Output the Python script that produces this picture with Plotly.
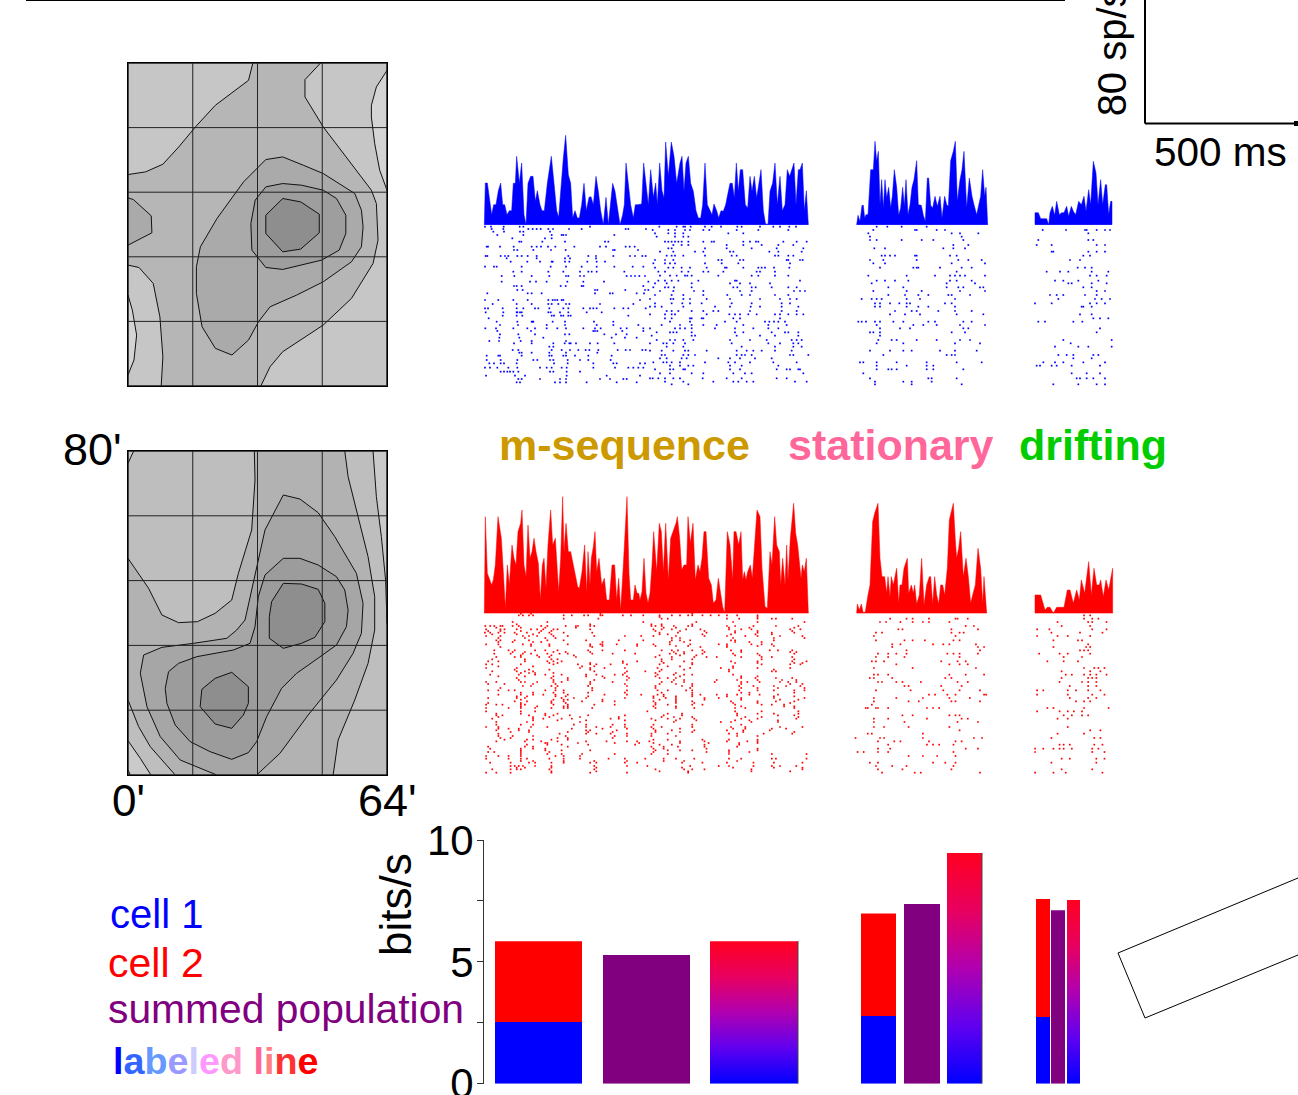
import plotly.graph_objects as go

W, H = 1298, 1095
FONT = "Liberation Sans"

RF1_LEVELS = ["#C6C6C6", "#D4D4D4", "#D4D4D4", "#B6B6B6", "#AAAAAA", "#AAAAAA", "#9E9E9E", "#8E8E8E"]
RF1_BASE = [(52, 38), (832, 38), (832, 1008), (52, 1008)]
RF1_LIGHT_A = [(832, 60), (800, 110), (785, 165), (785, 200), (795, 280), (810, 360), (832, 420)]
RF1_LIGHT_B = [(52, 735), (65, 780), (78, 855), (70, 930), (52, 975)]
RF1_MID = [(428, 38), (415, 90), (315, 165), (255, 230), (205, 290), (157, 342), (105, 365), (52, 373),
           (52, 645), (85, 652), (128, 700), (148, 800), (157, 920), (152, 1008), (452, 1008), (480, 950),
           (518, 905), (640, 825), (725, 745), (790, 640), (805, 570), (800, 460), (785, 420), (700, 310),
           (640, 230), (585, 140), (585, 88), (632, 38)]
RF1_SIDE = [(52, 443), (68, 448), (122, 497), (124, 548), (52, 585)]
RF1_INNER = [(467, 328), (518, 320), (580, 345), (640, 370), (735, 430), (755, 480), (760, 530), (755, 590),
             (725, 635), (640, 695), (560, 735), (480, 770), (445, 815), (415, 870), (365, 915), (315, 895),
             (275, 830), (258, 730), (258, 650), (270, 590), (320, 505), (400, 395)]
RF1_CORE = [(467, 410), (518, 400), (575, 405), (640, 420), (680, 445), (708, 495), (708, 550), (688, 600),
            (635, 630), (575, 645), (518, 658), (467, 652), (425, 600), (422, 520), (435, 450)]
RF1_PEAK = [(518, 445), (572, 455), (628, 492), (628, 548), (572, 597), (518, 605), (467, 550), (467, 495)]

RF2_LEVELS = ["#BEBEBE", "#CACACA", "#CACACA", "#D2D2D2", "#CACACA", "#B2B2B2", "#A6A6A6", "#9C9C9C", "#8E8E8E", "#8E8E8E"]
RF2_BASE = [(203, 63), (982, 63), (982, 1035), (203, 1035)]
RF2_STRIPE = [(940, 63), (950, 200), (965, 320), (978, 452), (982, 580), (982, 63)]
RF2_CORNER_LOW = [(203, 932), (240, 985), (272, 1035), (203, 1035)]
RF2_CORNER_TIP = [(203, 1020), (210, 1035), (203, 1035)]
RF2_CORNER_TOP = [(203, 100), (220, 63), (203, 63)]
RF2_MID = [(855, 63), (865, 140), (890, 240), (925, 380), (945, 500), (945, 600), (925, 700), (885, 810),
           (835, 930), (820, 1035), (345, 1035), (270, 950), (235, 890), (203, 810), (203, 385), (265, 475),
           (305, 555), (355, 578), (412, 575), (465, 550), (515, 510), (535, 430), (575, 300), (585, 150),
           (583, 63)]
RF2_INNER = [(670, 195), (720, 207), (775, 248), (825, 320), (890, 430), (910, 520), (905, 610), (880, 670),
             (830, 750), (745, 855), (660, 970), (590, 1035), (470, 1035), (360, 990), (300, 920), (260, 830),
             (240, 730), (250, 675), (305, 652), (400, 640), (500, 625), (530, 600), (555, 570), (585, 430),
             (615, 300)]
RF2_CORE = [(670, 385), (720, 385), (775, 405), (830, 440), (855, 480), (865, 540), (860, 590), (830, 645),
            (760, 695), (710, 730), (665, 775), (620, 860), (590, 935), (565, 968), (515, 988), (450, 965),
            (390, 935), (345, 885), (320, 820), (315, 775), (325, 725), (355, 700), (410, 680), (520, 660),
            (570, 640), (585, 590), (595, 500), (615, 435)]
RF2_PEAK_A = [(670, 460), (725, 462), (775, 478), (795, 520), (795, 575), (765, 622), (725, 640), (670, 655),
              (628, 625), (628, 560), (635, 515)]
RF2_PEAK_B = [(515, 727), (565, 770), (565, 820), (550, 855), (515, 895), (465, 882), (420, 830), (425, 778),
              (465, 745)]
GRID_ARCMIN_X = [0, 16, 32, 48, 64]
GRID_ARCMIN_Y = [0, 16, 32, 48, 64, 80]

# ---------- PSTHs: (time, rate) ----------
PSTH_BLUE_M = [(13,0),(16,125),(22,125),(28,84),(35,30),(41,60),(48,60),(55,102),(62,125),(68,60),(74,60),(81,30),(88,42),(95,42),(100,124),(106,124),(110,205),(118,125),(125,185),(132,30),(138,0),(144,124),(152,145),(159,145),(166,70),(172,102),(180,60),(186,42),(193,42),(202,124),(214,205),(222,124),(230,42),(236,22),(243,124),(250,200),(257,268),(265,150),(272,124),(278,20),(285,42),(292,20),(298,20),(305,60),(312,124),(319,42),(327,82),(333,84),(340,60),(348,145),(355,100),(362,42),(370,0),(378,82),(385,0),(392,60),(398,124),(405,100),(413,40),(420,0),(428,30),(433,60),(438,185),(445,124),(452,60),(460,20),(466,60),(473,60),(480,60),(485,62),(491,185),(498,124),(505,60),(512,165),(520,82),(527,125),(532,60),(539,185),(546,102),(552,80),(557,248),(565,145),(574,248),(582,205),(590,124),(600,185),(606,205),(612,100),(618,185),(625,205),(632,124),(640,100),(648,42),(655,20),(662,20),(668,60),(675,185),(682,60),(690,42),(696,30),(702,62),(710,42),(716,20),(723,42),(730,40),(737,60),(742,85),(750,124),(757,124),(763,80),(769,185),(775,100),(781,165),(788,165),(796,60),(803,50),(810,145),(816,100),(823,145),(830,80),(843,165),(850,42),(857,0),(864,0),(870,100),(878,125),(885,185),(892,60),(900,145),(907,42),(915,60),(922,165),(929,145),(935,165),(942,185),(948,60),(955,165),(960,165),(967,185),(973,42),(979,102),(985,0)]
PSTH_BLUE_S = [(1130,0),(1134,28),(1140,10),(1146,58),(1150,58),(1154,20),(1158,30),(1164,30),(1172,165),(1180,165),(1185,250),(1190,190),(1195,220),(1200,60),(1205,135),(1210,50),(1215,135),(1220,80),(1226,112),(1232,50),(1237,85),(1243,165),(1250,112),(1256,28),(1262,50),(1268,112),(1273,55),(1278,135),(1284,30),(1290,60),(1296,112),(1302,135),(1310,192),(1315,60),(1324,58),(1330,28),(1336,10),(1342,140),(1346,140),(1352,58),(1358,50),(1365,85),(1372,55),(1380,85),(1386,20),(1394,85),(1400,60),(1405,55),(1412,192),(1420,220),(1426,250),(1432,70),(1440,135),(1446,165),(1452,220),(1460,50),(1468,140),(1476,85),(1482,60),(1490,30),(1496,58),(1502,85),(1508,165),(1514,85),(1518,112),(1523,0)]
PSTH_BLUE_D = [(1665,36),(1675,36),(1682,18),(1690,18),(1700,18),(1706,0),(1710,36),(1717,55),(1724,28),(1730,70),(1738,30),(1745,36),(1752,36),(1760,55),(1766,25),(1774,55),(1780,40),(1787,30),(1796,70),(1804,60),(1812,85),(1818,40),(1826,105),(1832,60),(1840,190),(1848,155),(1854,60),(1862,135),(1868,60),(1876,120),(1880,120),(1886,30),(1892,70),(1896,70)]
PSTH_RED_M = [(13,0),(16,290),(22,120),(28,105),(35,85),(40,100),(46,145),(54,290),(58,260),(64,225),(70,125),(76,15),(82,145),(88,85),(96,205),(102,165),(108,145),(114,245),(122,270),(126,310),(132,145),(138,110),(144,265),(150,165),(156,185),(162,225),(168,185),(175,150),(181,40),(187,145),(192,165),(198,75),(204,205),(212,310),(218,205),(226,225),(236,65),(242,165),(248,350),(252,185),(258,270),(265,185),(272,185),(280,145),(286,105),(293,80),(298,75),(306,125),(314,205),(320,60),(324,185),(330,85),(334,165),(340,200),(345,245),(350,125),(357,165),(365,85),(373,105),(380,40),(388,40),(396,145),(404,145),(410,40),(416,105),(422,10),(430,145),(441,350),(447,120),(452,40),(460,40),(465,85),(471,60),(476,60),(480,40),(486,65),(492,165),(498,60),(504,30),(510,60),(516,145),(521,245),(530,125),(538,270),(544,245),(550,125),(557,270),(565,100),(572,225),(580,245),(588,270),(592,290),(599,225),(605,130),(612,145),(620,145),(624,290),(631,210),(639,270),(646,100),(654,145),(660,125),(666,165),(672,245),(678,245),(686,105),(694,85),(700,30),(708,40),(715,105),(722,60),(728,20),(734,0),(742,245),(750,205),(758,100),(762,245),(768,245),(772,225),(776,205),(783,245),(788,100),(793,125),(798,100),(803,125),(811,145),(817,105),(825,225),(831,310),(840,290),(846,135),(855,20),(862,15),(870,185),(876,145),(884,290),(890,205),(898,185),(902,85),(908,165),(915,85),(920,205),(924,100),(931,225),(941,330),(947,240),(953,205),(957,165),(963,105),(967,145),(973,125),(979,165),(985,0)]
PSTH_RED_S = [(1130,0),(1132,28),(1138,10),(1144,28),(1150,0),(1156,5),(1164,55),(1170,85),(1178,275),(1184,300),(1194,330),(1200,165),(1206,110),(1214,110),(1220,60),(1224,110),(1230,50),(1234,110),(1240,85),(1244,110),(1250,135),(1256,30),(1260,85),(1266,85),(1272,135),(1282,165),(1286,60),(1294,85),(1300,60),(1304,85),(1310,28),(1318,55),(1325,165),(1332,25),(1340,85),(1348,110),(1352,110),(1358,28),(1364,110),(1370,55),(1376,28),(1382,85),(1388,85),(1394,55),(1402,135),(1408,280),(1420,330),(1426,220),(1430,165),(1436,195),(1442,245),(1450,110),(1458,165),(1465,110),(1472,30),(1478,55),(1486,85),(1494,195),(1502,135),(1508,28),(1512,110),(1518,28),(1520,0)]
PSTH_RED_D = [(1665,55),(1682,55),(1695,10),(1702,18),(1710,18),(1720,0),(1730,18),(1752,18),(1762,70),(1770,70),(1780,30),(1790,70),(1798,40),(1804,100),(1814,60),(1826,155),(1834,55),(1842,135),(1850,85),(1858,85),(1862,100),(1870,50),(1878,100),(1886,70),(1898,135)]

# ---------- spike rasters: {trial position: [spike times]} ----------
RASTER_BLUE_LEFT = {
5:[15,33,71,119,130,330],12:[35,70,145,158,170,182,205,219,267,305,437,445,498],20:[40,72,120,130,210],30:[52,130,215,245,250,258,403],
40:[97,195,215],50:[118,124,187,255,375,385],65:[20,24,60,101,155,170,183,204,226,283,360,378,437,449,464],75:[102,112,160,213,257,399,404,474],
93:[17,22,62,75,85,112,125,143,170,265,325,348,400,450,465,487,497],100:[80,170,255,270,348],110:[92,142,180,215,218,255,268,322,350,375],
125:[15,42,50,125,212,258,305,350,403,458,490],140:[100,125,205,250,300,325,335,350,433],153:[65,103,155,208,258,265,300,312,440,453,465,478,495],
170:[65,150,168,200,262,310,372,505],183:[102,110,125,242,257,305,310,490],195:[112,128,345,352,436,495,505],205:[22,143,155,185,345,390,398,470,492],
225:[15,55,100,143,205,218,225,232,245,250,480],237:[38,110,155,205,215,235,258,268,360,460],250:[15,24,68,110,130,165,175,208,250,265,310,330,340,350,403,430,445,497],
262:[17,70,110,112,120,125,205,212,240,265,320,365],272:[68,110,127,215,222,243,250,265,272,445],280:[26],290:[50,112,155,158,160,218,255,342,400],
300:[60,114,200,255,350,400,475],310:[16,48,100,142,165,200,232,258,310,345,362,422,440,490,510],318:[52,153,340,345,352,427,490],328:[60,115,165,255,268,373,408,440],
338:[58,118,190,395,435,470],348:[28,57,122,155,258],355:[102,155,220,254,268,272,288,330,353,403],365:[208,220],375:[98,115,215,245,270,295,317,328,355,413,437,450,487,497],
383:[118,125,155,208,258,352],392:[20,55,60,125,208,215,250,258,285,325,395],405:[20,62,112,160,172,210,220,263,300,325,392],415:[28,42,62,72,110,222,263,340,400,410,480,495],
428:[15,30,52,85,112,180,200,215,245,260,340,405,445,460,475,490],440:[62,72,82,90,100,115,210,220,260,300],452:[18,105,135,260,380,480],462:[115,125,180,240,258,360,390,430,440],
472:[110,120,225,240,258,320,410,470]}
RASTER_BLUE_RIGHT = {
5:[28,80,100,105,122,165,185,213,262,275,330,370,390,418,438,680,712,755,830],15:[8,55,75,105,120,160,178,260,325,415,670,795,800,860,885,1178,1248,1305,1310,1340,1365,1380],
25:[15,55,75,100,235,280,655,905,930,985,1315],35:[20,75,100,115,660,935],45:[660,680,755,815,850,940,1165,1315,1330],50:[45,55,65,75,85,95,115,160,185,192,280,300,318,325,400,440,470],
60:[70,95,115,230,280,335,385,430,910,955,1160,1205,1340,1365],70:[55,65,165,230,305,380,460,673,705,880,910,945],80:[30,70,135,160,240,250,358,385,455,1205,1210,1315,1340,1365],
92:[50,65,75,100,165,245,260,375,385,415,430,695,705,720,735,795,800,900,920,1300,1320],105:[15,45,70,205,215,270,280,410,415,450,458,660,700,800,925,955,995,1260,1290],115:[10,45,60,75,165,215,265,420,670,705,905,1005],
128:[15,55,70,95,120,170,225,230,280,325,335,345,372,418,690,790,800,805,870,935,965,1283,1305,1325],140:[25,45,95,115,160,175,220,320,330,375,920,1190,1230,1255,1325,1375],152:[30,60,80,105,112,125,205,305,325,375,415,655,770,855,900,915,930,945,1005,1320,1340,1370],
167:[25,45,65,85,145,255,260,450,680,705,735,775,900,920,965,1215,1240,1285,1345],175:[15,50,125,240,270,300,360,665,890,975,1255,1265,1325,1370],187:[10,45,55,72,125,250,262,305,317,365,415,440,715,760,890,925,940,990,1000,1300,1325],
198:[30,70,132,160,270,305,432,450,465,670,770,815,930,1005,1340,1365],210:[15,65,100,160,232,275,300,375,415,715,765,805,835,895,905,960,1200,1220,1240,1305,1340],222:[0,62,70,100,120,170,240,330,390,420,440,635,665,680,695,770,810,915,1225,1335,1355,1380],
235:[15,65,97,120,155,245,305,395,420,675,690,720,748,770,780,885,905,1155,1205,1320,1340,1365],245:[0,15,35,100,195,240,302,330,395,445,675,690,770,805,835,915,1295,1300,1325],258:[50,65,85,125,160,190,205,300,395,440,735,785,800,865,915,965],
268:[0,45,65,75,170,238,255,270,295,320,375,390,415,440,460,720,765,810,920,1000,1290,1325],280:[45,65,120,125,155,160,250,270,390,1330,1350,1375],290:[60,120,225,260,345,358,372,385,405,625,635,648,675,690,730,760,835,855,940,965,1165,1185,1270,1297],
300:[35,90,125,160,200,280,355,410,680,790,820,860,930,1005],310:[75,90,105,125,195,255,310,355,385,690,750,780,940,955,1350],322:[20,60,70,80,125,255,280,365,405,415,445,660,670,690,905,945,1340],332:[5,125,135,260,330,375,445,690],
345:[20,60,75,100,130,240,300,350,425,440,455,685,725,740,800,860,930,960,1240,1385],355:[0,40,50,70,105,245,355,390,430,445,680,760,915,990,1262],365:[50,100,275,375,430,455,1215,1285,1315,1385],377:[0,35,70,105,115,170,260,290,310,335,375,425,660,720,760,785,870,915,980],
390:[35,45,100,115,135,260,275,285,305,420,430,475,700,890,905,915,1225,1250,1270,1330,1345],400:[30,50,95,110,205,240,270,315,365,1270,1325],412:[10,40,50,65,90,165,235,255,300,370,440,630,640,680,740,830,920,995,1180,1215,1240,1300,1365],
422:[60,90,115,130,240,275,385,680,770,830,850,1160,1170,1205,1220,1265,1350],433:[15,60,70,100,105,240,270,380,410,420,445,450,680,715,725,740,830,850,940],445:[30,60,125,160,250,285,305,460,640,1265,1310,1350],
460:[0,8,25,45,70,90,158,230,275,380,410,660,835,845,920,1280,1290,1310,1330,1365],470:[45,100,190,250,265,290,310,435,470,675,760,785,845],478:[65,115,675,785,935,1210,1285,1340,1365]}
RASTER_RED = {
10:[95,105,120,130,205,225,255,265,295,300,350,370,400,440,470,490,510,520,545,565,585,605,630,680,1480,1495],
20:[205,290,445,460,605,635,680,715,725,765,1005,1045,1060,1100,1165,1170,1195,1480,1500,1515],30:[80,165,400,530,620,680,795,980,995,1030,1060,1085,1100,1150,1415,1490,1500,1535],
42:[13,25,35,50,55,80,95,150,165,210,235,240,270,280,420,430,445,475,510,520,605,625,670,725,780,1190,1210,1425,1495],52:[15,50,60,90,125,140,155,180,190,270,425,445,470,505,540,610,640,665,760,785,1025,1035,1155,1220,1365,1395,1500,1535],
62:[12,25,45,60,85,115,145,170,205,275,440,485,555,625,680,715,770,970,985,1155,1175,1185,1400,1470,1525],72:[15,50,105,120,140,180,215,280,355,395,425,480,550,605,650,680,735,790,965,1165,1365,1415,1440,1495],
85:[40,50,85,120,165,205,260,340,400,470,490,515,615,625,720,970,1040,1060,1090,1160,1175,1405,1465,1475],97:[15,45,105,125,170,215,270,295,300,335,385,425,465,515,585,605,665,690,715,1010,1030,1110,1135,1150,1215,1490],
105:[50,275,540,605,1010,1220,1235,1405,1485,1495],115:[35,70,85,135,160,190,265,300,355,445,470,485,520,545,615,640,710,730,765,1045,1225,1470,1480,1490],125:[35,75,105,125,165,195,215,275,325,380,465,480,500,545,620,680,770,975,1000,1020,1045,1145,1160,1175,1220,1370,1420,1440,1495],
135:[40,85,100,145,170,235,430,470,525,555,580,640,690,715,765,970,1000,1040,1175,1430,1475],148:[20,45,110,165,180,200,350,385,445,500,615,680,765,800,960,970,990,1130,1170,1190,1390,1430,1465],157:[15,30,100,180,240,270,285,320,360,440,520,690,760,785,1020,1150,1175,1195],
168:[15,90,245,270,305,355,435,515,590,620,680,760,965,1060,1215,1480,1505,1515,1530],178:[30,90,110,130,280,360,405,440,610,715,725,1425,1495,1520],188:[25,95,135,160,200,260,285,330,350,435,475,500,520,620,965,975,1000,1150,1190,1235,1435,1450,1480,1495,1510,1535],
198:[90,175,215,305,365,440,460,480,640,675,725,765,955,965,1010,1140,1155,1425,1490,1500,1510],210:[15,40,100,110,140,180,200,270,325,445,470,500,575,640,655,685,735,755,775,975,985,1020,1035,1080,1170,1195,1420,1475,1490,1510],
222:[105,125,175,190,265,360,430,495,520,635,670,720,750,785,1040,1050,1130,1180,1445,1490,1510],235:[20,45,70,85,160,185,205,275,360,435,460,505,520,635,680,720,770,795,970,1055,1135,1175,1225,1365,1380,1440,1460,1490,1520],
248:[45,100,130,155,185,215,305,360,395,435,450,520,540,580,605,630,660,685,730,1100,1115,1145,1165,1235,1240,1365,1440,1500,1530],258:[20,90,110,200,230,260,355,425,455,480,550,585,640,720,795,965,1020,1085,1150,1200,1445,1490,1510],
268:[85,115,175,205,250,300,330,425,480,520,615,680,725,770,965,1050,1075,1155,1165,1225,1460,1480,1495],278:[15,40,55,100,110,180,215,280,330,430,460,520,545,625,690,715,745,960],288:[15,70,100,135,175,205,215,275,430,480,525,625,650,770,945,950,970,975,1000,1095,1110,1125,1390,1405,1480,1540],
298:[15,100,135,410,625,690,780,1365,1420,1440,1455,1475],310:[40,55,120,160,180,220,265,355,450,495,630,730,770,1035,1060,1150,1165,1175,1430,1450,1475,1490],320:[30,130,155,200,225,320,340,420,460,490,525,640,680,775,965,1000,1095,1180,1195,1415,1440],
330:[40,115,245,475,590,615,665,730,965,1040,1170,1220],345:[15,45,125,165,260,285,320,355,420,445,520,615,650,735,790,965,990,1050,1150,1440],355:[40,95,120,260,270,335,430,470,525,605,645,710,1175,1495,1520],365:[45,195,260,285,320,360,420,460,610,630,695,765,950,960,1085,1415,1480],
378:[50,75,190,215,325,920,980,990,1085,1210,1230,1400,1505,1520],388:[40,110,150,190,260,310,360,385,415,490,550,605,655,680,975,1015,1030,1100,1165,1180],398:[115,165,200,265,380,440,470,550,635,1000,1095,1110,1125,1160,1420,1430,1445,1505,1525],
410:[25,100,130,160,425,450,555,680,975,1005,1190,1220,1360,1380,1420,1430,1450,1500,1515,1405],420:[20,35,100,170,425,555,610,660,925,940,975,1000,1160,1360,1500,1530],432:[15,45,70,100,185,205,245,1050,1085,1120,1165],
440:[15,70,100,115,170,205,245,315,355,405,450,480,525,610,640,715,725,800,1425,1445,1510,1530],452:[25,75,120,135,175,205,270,285,355,385,495,545,605,670,720,790,955,975,1110,1140,1165,1400,1510],462:[75,85,95,105,135,175,280,360,410,515,585,610,670,715,735,775,970,1010,1045,1160],
472:[30,75,90,100,170,280,430,500,520,550,665,790,975,1035,1155,1425,1500],482:[15,40,75,175,270,360,510,985,1065,1080,1225,1360,1405,1435,1525]}
RASTER_RED_MSEQ_MORE = {
5:[100,125,295,520],15:[440,680],37:[90,270,420,445,520],47:[40,100,160,235,450,480,610,660,770],57:[20,50,100,150,175,430,490,550,625,680,765],
67:[30,90,130,175,440,460,545,615,675,715],78:[45,110,160,185,470,490,620,720,795],90:[45,80,130,150,300,465,500,625,660,690],
102:[125,170,270,300,385,430,480,510,605,680,720],120:[80,110,180,210,270,475,500,550,640,760,775],130:[100,140,175,230,440,490,530,625,685],
142:[30,110,175,190,445,470,520,690,770],153:[170,190,270,350,450,520,625,680,770,790],163:[45,130,250,280,460,490,620],173:[85,120,170,270,445,500,610,720],
183:[100,120,135,180,355,430,480],193:[45,110,180,260,300,360,430,490,640,680],204:[95,180,215,280,360,475,500,580,630,680,740,775],
216:[20,60,130,185,270,355,440,480,520,640,760,790],228:[50,185,275,430,515,640,680,730,795],242:[100,130,180,205,265,355,445,520,640,660,770],
253:[90,115,185,210,265,425,450,480,520,605,720,770],263:[100,180,205,215,300,440,480,550,640,735,780],273:[20,100,175,210,430,480,525,620,680,760],
283:[100,140,205,215,425,480,640,745,770],305:[40,100,160,190,460,495,630,680,720,780],315:[45,130,170,245,340,445,475,520,650,690,780],
325:[130,190,260,355,430,480,530,625,660,730],338:[40,100,130,230,260,325,355,425,520,640],350:[45,70,95,225,300,360,425,490,620,650,715,750],
360:[75,120,215,265,325,430,490,520,645,770],372:[45,80,130,210,330,360,420,480,630,680],383:[60,115,130,175,215,425,460,545,610,680],
393:[160,165,240,330,390,425,490,560,635,680],404:[20,110,130,215,420,450,485,550,630],415:[100,160,200,270,430,460,490,520,610,680],
426:[100,165,200,250,330,420,460,610,715,800],447:[100,130,205,280,360,450,500,630],467:[90,110,175,285,495,620,720,790],478:[175,285,440,510,665,760]}

# ---------- information bars (bits/s) ----------
CELL1_BITS = [2.53, 2.78, 2.74]
CELL1_PLUS_CELL2_BITS = [5.85, 6.98, 7.58]
SUMMED_BITS = [5.28, 7.37, 7.12]
LABELED_BITS = [5.85, 9.47, 7.54]
BAR_TICK_VALUES = [0, 2.5, 5, 7.5, 10]
BAR_TICK_LABELS = ["0", "", "5", "", "10"]

LABELED_LINE_LETTERS = ["l", "a", "b", "e", "l", "e", "d", " ", "l", "i", "n", "e"]
LABELED_LINE_COLORS = ["#0000FF", "#3366FF", "#6699FF", "#9999FF", "#CCCCFF", "#FF99FF", "#FF99CC", "#FFFFFF",
                       "#FF6699", "#FF8080", "#FF3333", "#FF0000"]

# ---------- layout constants (pixels) ----------
BAR_SLOTS = [(495, 582, 603, 690, 710, 798), (861, 896, 904, 940, 947, 982), (1036, 1050, 1051, 1065, 1067, 1080)]


def dx(a, b):
    return [a / W, b / W]


def dy(top, bottom):
    return [1 - bottom / H, 1 - top / H]


def hidden(**kw):
    return dict(visible=False, fixedrange=True, **kw)


fig = go.Figure()


def arc1(poly):
    return [(x - 52) / 780 * 64 for x, _ in poly], [(1008 - y) / 970 * 80 for _, y in poly]


def arc2(poly):
    return [(x - 203) / 779 * 64 for x, _ in poly], [(1035 - y) / 972 * 80 for _, y in poly]


def add_rf(polys, colors, conv, ax):
    for poly, c in zip(polys, colors):
        xs, ys = conv(poly)
        fig.add_trace(go.Scatter(x=xs + xs[:1], y=ys + ys[:1], mode="lines", fill="toself", fillcolor=c,
                                 line=dict(color="#111111", width=1), xaxis=f"x{ax}", yaxis=f"y{ax}",
                                 hoverinfo="skip", showlegend=False))
    for v in GRID_ARCMIN_X:
        fig.add_trace(go.Scatter(x=[v, v], y=[0, 80], mode="lines", line=dict(color="#222222", width=1),
                                 xaxis=f"x{ax}", yaxis=f"y{ax}", hoverinfo="skip", showlegend=False))
    for v in GRID_ARCMIN_Y:
        fig.add_trace(go.Scatter(x=[0, 64], y=[v, v], mode="lines", line=dict(color="#222222", width=1),
                                 xaxis=f"x{ax}", yaxis=f"y{ax}", hoverinfo="skip", showlegend=False))


add_rf([RF1_BASE, RF1_LIGHT_A, RF1_LIGHT_B, RF1_MID, RF1_SIDE, RF1_INNER, RF1_CORE, RF1_PEAK], RF1_LEVELS, arc1, 1)
add_rf([RF2_BASE, RF2_STRIPE, RF2_CORNER_LOW, RF2_CORNER_TIP, RF2_CORNER_TOP, RF2_MID, RF2_INNER, RF2_CORE,
        RF2_PEAK_A, RF2_PEAK_B], RF2_LEVELS, arc2, 2)


def add_psth(data, color, ax):
    xs = [p[0] for p in data]
    ys = [p[1] for p in data]
    fig.add_trace(go.Scatter(x=[xs[0]] + xs + [xs[-1]], y=[0] + ys + [0], mode="lines", fill="tozeroy", fillcolor=color,
                             line=dict(color=color, width=0.5), xaxis=f"x{ax}", yaxis=f"y{ax}",
                             hoverinfo="skip", showlegend=False))
    fig.add_trace(go.Scatter(x=[xs[0], xs[-1]], y=[0, 0], mode="lines", line=dict(color=color, width=2),
                             xaxis=f"x{ax}", yaxis=f"y{ax}", hoverinfo="skip", showlegend=False))


for d in (PSTH_BLUE_M, PSTH_BLUE_S, PSTH_BLUE_D):
    add_psth(d, "#0000FF", 3)
for d in (PSTH_RED_M, PSTH_RED_S, PSTH_RED_D):
    add_psth(d, "#FF0000", 5)


def add_raster(rows, color, ax, offset=0):
    xs, ys = [], []
    for trial, times in rows.items():
        for t in times:
            xs.append(t + offset)
            ys.append(trial)
    fig.add_trace(go.Scatter(x=xs, y=ys, mode="markers", xaxis=f"x{ax}", yaxis=f"y{ax}",
                             marker=dict(symbol="square", size=1.7, color=color, line=dict(width=0)),
                             hoverinfo="skip", showlegend=False))


add_raster(RASTER_BLUE_LEFT, "#0000FF", 4)
add_raster(RASTER_BLUE_RIGHT, "#0000FF", 4, offset=510)
add_raster(RASTER_RED, "#FF0000", 6)
add_raster(RASTER_RED_MSEQ_MORE, "#FF0000", 6)

# bars
BX0 = 484
GRADIENT = [[0, "#0000FF"], [0.25, "#6000F0"], [0.5, "#B000B0"], [0.75, "#E80060"], [1, "#FF0020"]]
for i, slot in enumerate(BAR_SLOTS):
    a0, a1, b0, b1, c0, c1 = [s - BX0 for s in slot]
    fig.add_trace(go.Bar(x=[(a0 + a1) / 2], y=[CELL1_BITS[i]], width=[a1 - a0], marker=dict(color="#0000FF", line=dict(width=0)),
                         xaxis="x7", yaxis="y7", hoverinfo="skip", showlegend=False))
    fig.add_trace(go.Bar(x=[(a0 + a1) / 2], y=[CELL1_PLUS_CELL2_BITS[i] - CELL1_BITS[i]], base=[CELL1_BITS[i]], width=[a1 - a0],
                         marker=dict(color="#FF0000", line=dict(width=0)), xaxis="x7", yaxis="y7", hoverinfo="skip", showlegend=False))
    fig.add_trace(go.Bar(x=[(b0 + b1) / 2], y=[SUMMED_BITS[i]], width=[b1 - b0], marker=dict(color="#800080", line=dict(width=0)),
                         xaxis="x7", yaxis="y7", hoverinfo="skip", showlegend=False))
    fig.add_trace(go.Scatter(x=[c0, c0, c1, c1, c0], y=[0, LABELED_BITS[i], LABELED_BITS[i], 0, 0], mode="lines", fill="toself",
                             line=dict(width=0, color="rgba(0,0,0,0)"),
                             fillgradient=dict(type="vertical", colorscale=GRADIENT),
                             xaxis="x7", yaxis="y7", hoverinfo="skip", showlegend=False))
    if i < 2:
        fig.add_trace(go.Scatter(x=[c1, c1], y=[0, LABELED_BITS[i]], mode="lines", line=dict(color="#444444", width=1),
                                 xaxis="x7", yaxis="y7", hoverinfo="skip", showlegend=False))

# scale-bar label carrier axis
SCALE_LABEL_VALUE = [42.5]
SCALE_LABEL_TEXT = ["80 sp/s"]
fig.add_trace(go.Scatter(x=[0], y=[0], mode="markers", marker=dict(opacity=0), xaxis="x8", yaxis="y8",
                         hoverinfo="skip", showlegend=False))

frame = dict(showline=True, mirror=True, linecolor="#000000", linewidth=1, showgrid=False, zeroline=False,
             showticklabels=False, ticks="", fixedrange=True)

layout = dict(
    width=W, height=H, margin=dict(l=0, r=0, t=0, b=0, pad=0, autoexpand=False), paper_bgcolor="white", plot_bgcolor="rgba(0,0,0,0)",
    showlegend=False, barmode="overlay", font=dict(family=FONT, color="#000000"),
    xaxis=dict(domain=dx(128, 387), range=[0, 64], anchor="y", **frame),
    yaxis=dict(domain=dy(63, 386), range=[0, 80], anchor="x", **frame),
    xaxis2=dict(domain=dx(128, 387), range=[0, 64], anchor="y2", **frame),
    yaxis2=dict(domain=dy(451, 775), range=[0, 80], anchor="x2", **frame),
    xaxis3=hidden(domain=dx(480, 1120), range=[0, 1920], anchor="y3"),
    yaxis3=hidden(domain=dy(130, 224.7), range=[0, 284], anchor="x3"),
    xaxis4=hidden(domain=dx(480, 1120), range=[0, 1920], anchor="y4"),
    yaxis4=hidden(domain=dy(225, 390), range=[495, 0], anchor="x4"),
    xaxis5=hidden(domain=dx(480, 1120), range=[0, 1920], anchor="y5"),
    yaxis5=hidden(domain=dy(490, 613.3), range=[0, 370], anchor="x5"),
    xaxis6=hidden(domain=dx(480, 1120), range=[0, 1568], anchor="y6"),
    yaxis6=hidden(domain=dy(612, 777), range=[495, 0], anchor="x6"),
    xaxis7=dict(domain=dx(BX0, W), range=[0, W - BX0], anchor="y7", visible=False, fixedrange=True),
    yaxis7=dict(domain=dy(840, 1083.7), range=[0, 10], anchor="x7", tickmode="array", tickvals=BAR_TICK_VALUES,
                ticktext=BAR_TICK_LABELS, ticks="outside", ticklen=6, tickcolor="#333333", showline=True,
                linecolor="#333333", linewidth=1, showgrid=False, zeroline=False, fixedrange=True,
                ticklabeloverflow="allow", ticklabelstandoff=-5,
                tickfont=dict(size=42, family=FONT, color="#000000")),
    xaxis8=dict(domain=dx(1145, 1298), range=[0, 1], anchor="y8", visible=False, fixedrange=True),
    yaxis8=dict(domain=dy(0, 123.5), range=[0, 80], anchor="x8", tickmode="array", tickvals=SCALE_LABEL_VALUE,
                ticktext=SCALE_LABEL_TEXT, tickangle=-90, ticks="", showline=False, showgrid=False, zeroline=False,
                fixedrange=True, ticklabeloverflow="allow", ticklabelstandoff=10,
                tickfont=dict(size=40, family=FONT, color="#000000")),
)


def px_shape(x0, y0, x1, y1, width=1, color="#000000"):
    return dict(type="line", xref="paper", yref="paper", x0=x0 / W, x1=x1 / W, y0=1 - y0 / H, y1=1 - y1 / H,
                line=dict(color=color, width=width))


shapes = [
    px_shape(26, 0, 1065, 0, 2),
    px_shape(1145, 0, 1145, 123.5, 2),
    px_shape(1145, 123.5, 1298, 123.5, 2),
    px_shape(1294, 123.5, 1298, 123.5, 5),
    px_shape(1118, 953, 1298, 878, 1),
    px_shape(1118, 953, 1145, 1018, 1),
    px_shape(1145, 1018, 1298, 955, 1),
]
layout["shapes"] = shapes


def label(text, x, y, size=40, color="#000000", xanchor="left", angle=0, bold=False, yanchor="middle"):
    return dict(text=f"<b>{text}</b>" if bold else text, x=x / W, y=1 - y / H, xref="paper", yref="paper",
                xanchor=xanchor, yanchor=yanchor, showarrow=False, textangle=angle, borderpad=0, borderwidth=0,
                font=dict(size=size, family=FONT, color=color))


labeled = "".join(f'<span style="color:{c}">{t}</span>' for t, c in zip(LABELED_LINE_LETTERS, LABELED_LINE_COLORS))
layout["annotations"] = [
    label("80'", 122, 449, size=45, xanchor="right"),
    label("0'", 128, 800, size=44, xanchor="center"),
    label("64'", 387, 800, size=45, xanchor="center"),
    label("m-sequence", 499, 445, size=43, color="#CC9900", bold=True),
    label("stationary", 788, 445, size=43, color="#FF6699", bold=True),
    label("drifting", 1019, 445, size=43, color="#00CC00", bold=True),
    label("cell 1", 110, 914, size=40, color="#0000FF"),
    label("cell 2", 108, 963, size=41, color="#FF0000"),
    label("summed population", 108, 1009, size=40.8, color="#800080"),
    label(labeled, 113, 1061, size=37.7, bold=True),
    label("bits/s", 395, 905, size=44, xanchor="center", angle=-90),
    label("500 ms", 1154, 152, size=40.5),
]
fig.update_layout(**layout)

fig.write_html("out.html", config=dict(displayModeBar=False),
               post_script="document.body.style.margin='0';document.body.style.overflow='hidden';")
